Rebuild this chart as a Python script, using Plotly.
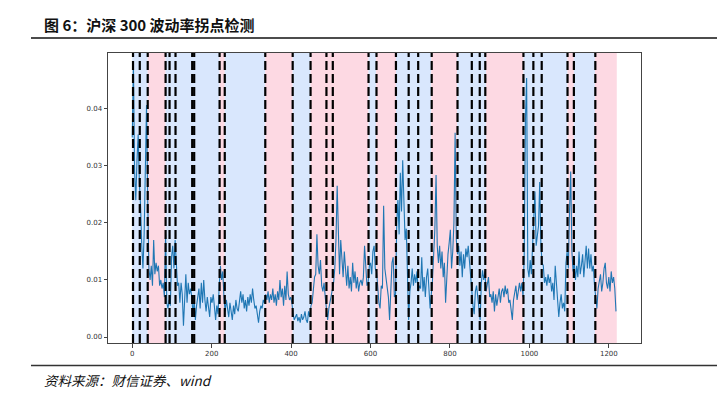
import plotly.graph_objects as go

# ---- data ----
STEP = 3
vol = [
    0.035, 0.0477, 0.029, 0.024, 0.031, 0.0355, 0.027, 0.023, 0.016, 0.012,
    0.018, 0.033, 0.0407, 0.024, 0.012, 0.010, 0.0125, 0.009, 0.017, 0.011,
    0.013, 0.0115, 0.0125, 0.009, 0.010, 0.0085, 0.0095, 0.007, 0.018, 0.006,
    0.005, 0.0065, 0.0055, 0.014, 0.016, 0.012, 0.017, 0.013, 0.009, 0.0095,
    0.006, 0.0095, 0.0075, 0.002, 0.008, 0.011, 0.006, 0.0095, 0.0075, 0.0085,
    0.007, 0.004, 0.0065, 0.003, 0.0055, 0.007, 0.0085, 0.005, 0.0095, 0.006,
    0.010, 0.0065, 0.0045, 0.007, 0.0055, 0.0035, 0.007, 0.006, 0.0075, 0.005,
    0.003, 0.0055, 0.004, 0.009, 0.0125, 0.010, 0.0115, 0.007, 0.0045, 0.0065,
    0.005, 0.0035, 0.006, 0.0045, 0.003, 0.0055, 0.004, 0.0065, 0.005, 0.0045,
    0.007, 0.008, 0.006, 0.0075, 0.005, 0.0065, 0.0045, 0.007, 0.0055, 0.0075,
    0.006, 0.0085, 0.0065, 0.005, 0.0055, 0.004, 0.0025, 0.0045, 0.0055, 0.005,
    0.0065, 0.006, 0.0075, 0.0065, 0.008, 0.006, 0.0075, 0.0065, 0.0085, 0.006,
    0.0075, 0.0055, 0.008, 0.0065, 0.010, 0.007, 0.0085, 0.0055, 0.009, 0.0065,
    0.0115, 0.0075, 0.0065, 0.007, 0.006, 0.004, 0.003, 0.0035, 0.004, 0.0028,
    0.0035, 0.0025, 0.004, 0.003, 0.0035, 0.0045, 0.003, 0.0025, 0.0045, 0.0035,
    0.0055, 0.006, 0.009, 0.0105, 0.011, 0.018, 0.0125, 0.011, 0.0135, 0.009,
    0.008, 0.0095, 0.007, 0.0045, 0.003, 0.005, 0.006, 0.0075, 0.0085, 0.0095,
    0.012, 0.017, 0.0265, 0.016, 0.011, 0.017, 0.0125, 0.0105, 0.015, 0.012,
    0.009, 0.0125, 0.0085, 0.0105, 0.008, 0.013, 0.0095, 0.0115, 0.0085, 0.0105,
    0.008, 0.0095, 0.010, 0.009, 0.0105, 0.016, 0.011, 0.009, 0.0095, 0.0125,
    0.013, 0.011, 0.015, 0.016, 0.012, 0.0115, 0.009, 0.006, 0.005, 0.009,
    0.0085, 0.023, 0.012, 0.0105, 0.009, 0.007, 0.003, 0.0085, 0.013, 0.014,
    0.007, 0.0075, 0.020, 0.024, 0.018, 0.0288, 0.022, 0.031, 0.021, 0.017,
    0.019, 0.012, 0.003, 0.008, 0.0095, 0.012, 0.009, 0.011, 0.0095, 0.0115,
    0.008, 0.009, 0.0085, 0.014, 0.008, 0.0105, 0.007, 0.0105, 0.012, 0.0085,
    0.005, 0.0075, 0.010, 0.0145, 0.019, 0.0284, 0.016, 0.013, 0.016, 0.012,
    0.015, 0.0105, 0.013, 0.006, 0.011, 0.0145, 0.0165, 0.0188, 0.012, 0.015,
    0.020, 0.0358, 0.017, 0.0145, 0.016, 0.0125, 0.015, 0.0105, 0.0145, 0.012,
    0.0155, 0.014, 0.016, 0.0135, 0.011, 0.007, 0.0055, 0.004, 0.008, 0.009,
    0.0065, 0.005, 0.003, 0.0095, 0.0117, 0.010, 0.0115, 0.008, 0.0095, 0.0105,
    0.007, 0.0075, 0.006, 0.008, 0.0045, 0.0075, 0.0055, 0.007, 0.0085, 0.006,
    0.008, 0.0085, 0.007, 0.009, 0.0075, 0.0085, 0.006, 0.0065, 0.0045, 0.003,
    0.0065, 0.0075, 0.009, 0.0065, 0.008, 0.0095, 0.008, 0.0095, 0.007, 0.0145,
    0.038, 0.0454, 0.012, 0.0105, 0.0135, 0.011, 0.016, 0.020, 0.0255, 0.016,
    0.018, 0.0195, 0.0272, 0.016, 0.013, 0.0125, 0.0095, 0.0105, 0.009, 0.011,
    0.0095, 0.0105, 0.008, 0.0095, 0.0065, 0.0125, 0.0095, 0.007, 0.0035, 0.006,
    0.0075, 0.005, 0.006, 0.0045, 0.013, 0.015, 0.012, 0.022, 0.029, 0.015,
    0.0115, 0.013, 0.010, 0.0125, 0.0105, 0.015, 0.011, 0.0125, 0.0145, 0.0105,
    0.013, 0.016, 0.012, 0.0155, 0.012, 0.0145, 0.0115, 0.0125, 0.009, 0.007,
    0.005, 0.0085, 0.0095, 0.011, 0.008, 0.0095, 0.012, 0.013, 0.0095, 0.0085,
    0.0105, 0.008, 0.0115, 0.0095, 0.0105, 0.0085, 0.0045,
]
t = [i * STEP for i in range(len(vol))]

# regime segments (shaded background, alternating colours)
shade_bkps = [0, 39, 84, 220, 233, 335, 404, 449, 595, 614, 664, 753, 818,
              891, 985, 1096, 1112, 1165, 1220]
# detected change points (dashed lines)
change_pts = [2, 19, 39, 84, 94, 109, 151, 156, 220, 233, 335, 404, 449, 489,
              505, 595, 615, 664, 696, 720, 754, 819, 855, 875, 889, 985, 1010,
              1031, 1096, 1112, 1166]

x_ticks = [0, 200, 400, 600, 800, 1000, 1200]
y_ticks = [0.00, 0.01, 0.02, 0.03, 0.04]

title_text = "图 6：沪深 300 波动率拐点检测"
source_text = "资料来源：财信证券、wind"

COLORS = ["#d9e7fd", "#fdd9e3"]

fig = go.Figure()
fig.add_trace(go.Scatter(x=t, y=vol, mode="lines",
                         line=dict(color="#1f77b4", width=1.1),
                         hoverinfo="skip", showlegend=False))

shapes = []
for i in range(len(shade_bkps) - 1):
    shapes.append(dict(type="rect", xref="x", yref="paper",
                       x0=shade_bkps[i], x1=shade_bkps[i + 1], y0=0, y1=1,
                       fillcolor=COLORS[i % 2], line=dict(width=0),
                       layer="below"))
for cp in change_pts:
    shapes.append(dict(type="line", xref="x", yref="paper",
                       x0=cp, x1=cp, y0=0, y1=1,
                       line=dict(color="black", width=2.2, dash="9px,4px"),
                       layer="above"))
# horizontal rules of the report page
shapes.append(dict(type="line", xref="paper", yref="paper",
                   x0=-0.1445, x1=1.17, y0=1.0517, y1=1.0517,
                   line=dict(color="#111111", width=1.5)))
shapes.append(dict(type="line", xref="paper", yref="paper",
                   x0=-0.1445, x1=1.17, y0=-0.0776, y1=-0.0776,
                   line=dict(color="#333333", width=1.5)))

annotations = [
    dict(text="<b>" + title_text + "</b>", xref="paper", yref="paper",
         x=-0.1238, y=1.0966, xanchor="left", yanchor="middle",
         showarrow=False,
         font=dict(family="Noto Sans CJK SC", size=15, color="#111111")),
    dict(text="<i>" + source_text + "</i>", xref="paper", yref="paper",
         x=-0.1238, y=-0.1276, xanchor="left", yanchor="middle",
         showarrow=False,
         font=dict(family="Noto Sans CJK SC", size=13.5, color="#111111")),
]

axis_common = dict(showline=True, linecolor="#444444", linewidth=1,
                   mirror=True, ticks="outside", ticklen=3.5, tickwidth=1,
                   tickcolor="#444444", showgrid=False, zeroline=False,
                   automargin=False,
                   tickfont=dict(family="DejaVu Sans", size=7, color="#333333"))

# the page body adds an 8px offset, so margins are set 8px smaller on left/top
fig.update_layout(
    width=725, height=394,
    margin=dict(l=100, r=92, t=45, b=59),
    paper_bgcolor="white", plot_bgcolor="white",
    shapes=shapes, annotations=annotations,
    xaxis=dict(range=[-61, 1281], tickvals=x_ticks,
               ticktext=[str(v) for v in x_ticks], **axis_common),
    yaxis=dict(range=[-0.00105, 0.0498], tickvals=y_ticks,
               ticktext=["%.2f" % v for v in y_ticks], **axis_common),
)

fig.write_html("out.html")
